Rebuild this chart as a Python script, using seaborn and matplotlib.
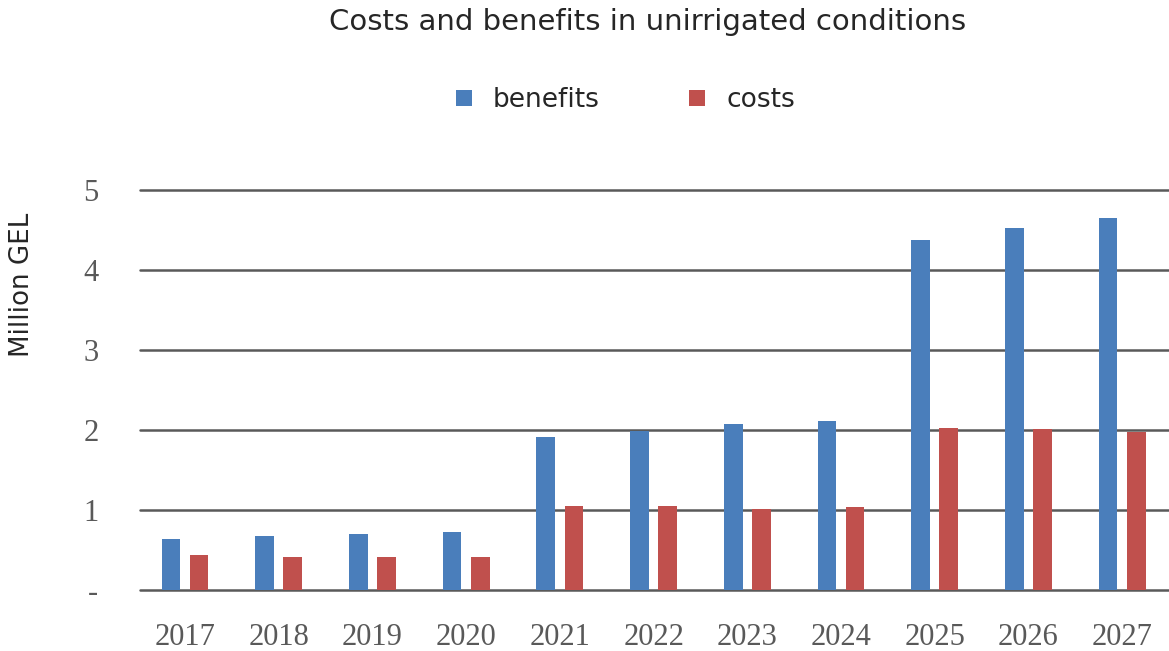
import pandas as pd
import matplotlib
matplotlib.use('Agg')
import matplotlib.pyplot as plt
import seaborn as sns
from matplotlib.ticker import FuncFormatter

# values (million GEL)
years = ['2017', '2018', '2019', '2020', '2021', '2022', '2023', '2024', '2025', '2026', '2027']
benefits = [0.64, 0.68, 0.70, 0.73, 1.91, 1.99, 2.07, 2.11, 4.37, 4.52, 4.65]
costs = [0.44, 0.41, 0.41, 0.41, 1.05, 1.05, 1.01, 1.04, 2.03, 2.01, 1.98]
series = ['benefits', 'costs']
colors = ['#4a7ebb', '#c0504d']

df = pd.DataFrame({'year': years * 2,
                   'value': benefits + costs,
                   'series': ['benefits'] * len(years) + ['costs'] * len(years)})

sns.set_style('white')
plt.rcParams['font.family'] = ['DejaVu Sans']

fig = plt.figure(figsize=(11.69, 6.51), dpi=100)
ax = fig.add_axes([0.1198, 0.0937, 0.8802, 0.6144])

sns.barplot(data=df, x='year', y='value', hue='series', hue_order=series,
            palette=colors, width=0.6, gap=1/3, saturation=1, linewidth=0, ax=ax)

# grid lines
ax.set_ylim(0, 5)
ax.set_xlim(-0.48, 10.5)
ax.set_yticks([0, 1, 2, 3, 4, 5])
ax.yaxis.set_major_formatter(FuncFormatter(lambda v, p: '-' if v == 0 else f'{v:.0f}'))
ax.grid(axis='y', color='#595959', linewidth=1.8)
for gl in ax.get_ygridlines():
    gl.set_clip_on(False)
ax.set_axisbelow(True)
for s in ax.spines.values():
    s.set_visible(False)

ax.tick_params(axis='both', length=0, colors='#595959', labelsize=22)
ax.tick_params(axis='x', pad=24)
ax.tick_params(axis='y', pad=30)
for lbl in ax.get_xticklabels() + ax.get_yticklabels():
    lbl.set_fontfamily('Liberation Serif')

ax.set_xlabel('')
ax.set_ylabel('')
fig.text(0.019, 0.562, 'Million GEL', rotation=90, ha='center', va='center',
         fontsize=18.8, color='#262626')

fig.text(0.554, 0.966, 'Costs and benefits in unirrigated conditions',
         ha='center', va='center', fontsize=21, color='#262626')

handles, labels = ax.get_legend_handles_labels()
ax.get_legend().remove()
fig.legend(handles, labels, loc='center', bbox_to_anchor=(0.535, 0.846), ncol=2,
           frameon=False, fontsize=19, handlelength=0.6, handleheight=0.6,
           handletextpad=0.8, columnspacing=3.4, labelcolor='#262626')

fig.savefig('out.png', dpi=100)
